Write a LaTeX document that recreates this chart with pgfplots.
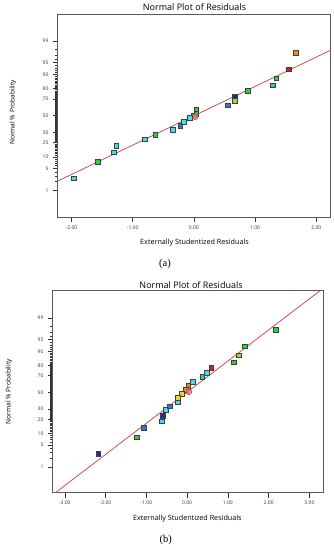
\documentclass[border=0pt]{standalone}
\usepackage{fontspec}
\setmainfont{Liberation Serif}
\newfontfamily\uifont{Open Sans}
\usepackage{pgfplots}
\pgfplotsset{compat=1.18}
\definecolor{cdkblue}{RGB}{35,40,170}
\definecolor{cblue}{RGB}{45,120,215}
\definecolor{ccyan}{RGB}{70,220,235}
\definecolor{cteal}{RGB}{45,205,150}
\definecolor{cgreen}{RGB}{50,205,60}
\definecolor{cyg}{RGB}{150,225,40}
\definecolor{cyellow}{RGB}{235,215,40}
\definecolor{corange}{RGB}{235,135,40}
\definecolor{cred}{RGB}{215,30,30}
\definecolor{cpink}{RGB}{230,125,120}
\definecolor{cline}{RGB}{205,80,80}
\pgfplotsset{
  resid/.style={
    scale only axis,
    anchor=south west,
    axis line style={draw=black!65, line width=1pt},
    tick style={black!80, line width=0.5pt},
    tick align=outside,
    xtick pos=bottom, ytick pos=left,
    major tick length=5pt, minor tick length=2.5pt,
    ytick={-2.3263,-1.6449,-1.2816,-0.8416,-0.5244,0,0.5244,0.8416,1.2816,1.6449,2.3263},
    yticklabels={1,5,10,20,30,50,70,80,90,95,99},
    minor ytick={-2.0537,-1.8808,-1.7507,-1.5548,-1.4758,-1.4051,-1.3408,-1.2265,-1.1750,-1.1264,-1.0803,-1.0364,-0.9945,-0.9542,-0.9154,-0.8779,-0.8064,-0.7722,-0.7388,-0.7063,-0.6745,-0.6433,-0.6128,-0.5828,-0.5534,-0.4959,-0.4677,-0.4399,-0.4125,-0.3853,-0.3585,-0.3319,-0.3055,-0.2793,-0.2533,-0.2275,-0.2019,-0.1764,-0.1510,-0.1257,-0.1004,-0.0753,-0.0502,-0.0251,0.0251,0.0502,0.0753,0.1004,0.1257,0.1510,0.1764,0.2019,0.2275,0.2533,0.2793,0.3055,0.3319,0.3585,0.3853,0.4125,0.4399,0.4677,0.4959,0.5534,0.5828,0.6128,0.6433,0.6745,0.7063,0.7388,0.7722,0.8064,0.8779,0.9154,0.9542,0.9945,1.0364,1.0803,1.1264,1.1750,1.2265,1.3408,1.4051,1.4758,1.5548,1.7507,1.8808,2.0537},
    tick label style={font=\uifont\fontsize{5}{5.5}\selectfont, text=black!80},
    yticklabel style={xshift=-1pt},
    title style={font=\uifont\fontsize{9}{10}\selectfont, anchor=center},
    xlabel style={font=\uifont\fontsize{7.2}{8}\selectfont, at={(axis description cs:0.5,0)}, anchor=center},
    ylabel style={font=\uifont\fontsize{6.6}{7}\selectfont, anchor=center},
    title={Normal Plot of Residuals},
    xlabel={Externally Studentized Residuals},
    ylabel={Normal \% Probability},
    clip=true,
  },
  sq/.style={only marks, mark=square*, mark size=2.3pt, mark options={fill=#1, draw=black!75, line width=0.5pt}},
  fitline/.style={cline, line width=0.8pt, no marks},
}
\begin{document}
\begin{tikzpicture}
\useasboundingbox (0,0) rectangle (334pt,-550pt);
% ---------------- (a)
\begin{axis}[resid,
  at={(58pt,-217pt)}, width=273pt, height=203pt,
  xmin=-2.22, xmax=2.24, ymin=-3.15, ymax=3.16,
  xtick={-2,-1,0,1,2},
  xticklabels={-2.00,-1.00,0.00,1.00,2.00},
  title style={at={(axis description cs:0.5,1)}, yshift=1pt},
  xlabel style={yshift=-25.3pt},
  ylabel style={at={(axis description cs:-0.165,0.515)}},
]
\addplot[fitline] coordinates {(-2.22,-2.03) (2.24,2.04)};
\addplot[sq=corange] coordinates {(1.665,1.957)};
\addplot[sq=cred] coordinates {(1.546,1.44)};
\addplot[sq=cgreen] coordinates {(1.344,1.16) (0.88,0.77) (0.038,0.20) (0.038,0.06) (-0.63,-0.59) (-1.567,-1.43)};
\addplot[sq=cteal] coordinates {(1.29,0.94)};
\addplot[sq=cdkblue] coordinates {(0.664,0.60)};
\addplot[sq=cyg] coordinates {(0.67,0.456)};
\addplot[sq=cblue] coordinates {(0.555,0.32) (-0.22,-0.31)};
\addplot[sq=cpink] coordinates {(-0.01,0.01)};
\addplot[only marks, mark=*, mark size=3pt, mark options={fill=cpink, draw=cline!80!black, line width=0.5pt, fill opacity=0.8}] coordinates {(0.02,-0.03)};
\addplot[sq=ccyan] coordinates {(-0.065,-0.06) (-0.17,-0.19) (-0.35,-0.44) (-0.80,-0.73) (-1.27,-0.93) (-1.31,-1.14) (-1.96,-1.95)};
\end{axis}
\node[font=\fontsize{10.5}{12}\selectfont] at (165pt,-264.3pt) {(a)};
% ---------------- (b)
\begin{axis}[resid,
  at={(53pt,-492.7pt)}, width=270.7pt, height=202pt,
  xmin=-3.29, xmax=3.35, ymin=-3.13, ymax=3.17,
  xtick={-3,-2,-1,0,1,2,3},
  xticklabels={-3.00,-2.00,-1.00,0.00,1.00,2.00,3.00},
  title style={at={(axis description cs:0.51,1)}, yshift=0pt},
  xlabel style={yshift=-25.6pt, xshift=-1pt},
  ylabel style={at={(axis description cs:-0.163,0.5)}},
]
\addplot[fitline] coordinates {(-3.23,-3.13) (3.26,3.17)};
\addplot[sq=cgreen] coordinates {(2.17,1.96) (1.41,1.44) (1.15,0.94) (-1.24,-1.40)};
\addplot[sq=cyg] coordinates {(1.26,1.16)};
\addplot[sq=cred] coordinates {(0.59,0.77)};
\addplot[sq=ccyan] coordinates {(0.48,0.61) (0.14,0.33) (-0.23,-0.29) (-0.52,-0.55) (-0.62,-0.90)};
\addplot[sq=cteal] coordinates {(0.37,0.48)};
\addplot[sq=corange] coordinates {(0.03,0.21) (-0.04,0.09)};
\addplot[sq=cyellow] coordinates {(-0.13,-0.05) (-0.23,-0.17)};
\addplot[only marks, mark=*, mark size=3pt, mark options={fill=cpink, draw=cline!80!black, line width=0.5pt, fill opacity=0.8}] coordinates {(0.04,0.02)};
\addplot[sq=cblue] coordinates {(-0.43,-0.43) (-1.06,-1.11)};
\addplot[sq=cdkblue] coordinates {(-0.60,-0.73) (-2.18,-1.92)};
\end{axis}
\node[font=\fontsize{10.5}{12}\selectfont] at (165.7pt,-540pt) {(b)};
\end{tikzpicture}
\end{document}
